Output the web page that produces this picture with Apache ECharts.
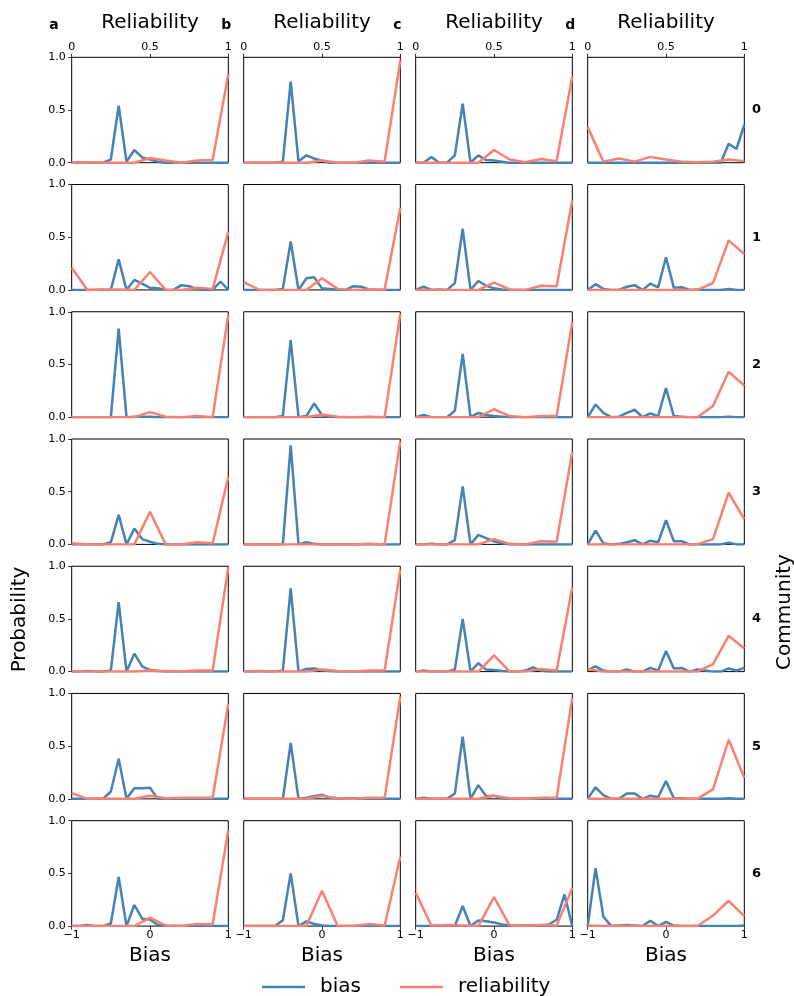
<!DOCTYPE html>
<html><head><meta charset="utf-8">
<script src="https://cdn.jsdelivr.net/npm/echarts@6/dist/echarts.min.js"></script>
<style>html,body{margin:0;padding:0;background:#fff}#c{width:794px;height:996px}</style>
</head><body><div id="c"></div><script>
// ---- data ----
const biasBins = [-1,-0.9,-0.8,-0.7,-0.6,-0.5,-0.4,-0.3,-0.2,-0.1,0,0.1,0.2,0.3,0.4,0.5,0.6,0.7,0.8,0.9,1];
const relBins = [0,0.1,0.2,0.3,0.4,0.5,0.6,0.7,0.8,0.9,1];
const panelLetters = ['a','b','c','d'];
const communities = ['0','1','2','3','4','5','6'];
const probTicks = ['0.0','0.5','1.0'];
const relTicks = ['0','0.5','1'];
const biasTicks = ['\u22121','0','1'];

const biasA = [
  [0,0.005,0,0,0,0.03,0.54,0.01,0.12,0.05,0.03,0.01,0,0,0,0,0,0,0,0,0],
  [0,0,0,0,0,0,0.29,0,0.095,0.06,0.02,0.015,0,0,0.045,0.035,0.01,0,0,0.08,0],
  [0,0,0,0,0,0,0.84,0,0.005,0.005,0.005,0,0,0,0,0,0,0,0,0,0],
  [0,0,0,0,0,0.02,0.28,0,0.15,0.05,0.025,0.005,0,0,0,0,0,0,0,0,0],
  [0,0,0.005,0,0,0.01,0.66,0,0.17,0.05,0.015,0.005,0,0,0,0,0,0,0,0,0],
  [0,0,0,0,0,0.07,0.38,0,0.1,0.1,0.105,0,0,0,0,0,0,0,0,0,0],
  [0,0,0.01,0,0,0.025,0.465,0,0.2,0.07,0.063,0.01,0,0,0,0,0,0,0,0,0]
];
const relA = [
  [0,0.005,0,0,0,0.045,0.02,0,0.02,0.025,0.84],
  [0.21,0,0.005,0.005,0,0.17,0,0,0.02,0.01,0.55],
  [0,0,0,0,0,0.048,0.005,0,0.01,0,0.97],
  [0.01,0,0,0,0,0.31,0,0,0.02,0.01,0.64],
  [0,0,0,0,0,0.01,0.005,0,0.01,0.01,0.99],
  [0.055,0,0,0,0,0.03,0.005,0.01,0.01,0.01,0.9],
  [0,0,0,0,0,0.08,0.005,0,0.02,0.015,0.91]
];
const biasB = [
  [0,0,0,0,0,0.01,0.77,0.01,0.07,0.04,0.02,0,0,0,0,0,0,0,0,0,0],
  [0,0,0,0,0,0.01,0.46,0,0.11,0.12,0.015,0.01,0.005,0,0.035,0.03,0.005,0,0,0,0],
  [0,0,0,0,0,0.01,0.73,0,0.01,0.13,0.02,0.005,0,0,0,0,0,0,0,0,0],
  [0,0,0,0,0,0,0.94,0,0.02,0.005,0,0,0,0,0,0,0,0,0,0,0],
  [0,0,0.005,0,0,0.01,0.79,0,0.025,0.03,0.01,0.005,0,0,0,0,0,0,0,0,0],
  [0,0,0,0,0,0,0.53,0,0.01,0.025,0.04,0.01,0.005,0.005,0.005,0,0,0,0,0,0],
  [0,0,0,0,0,0.055,0.5,0,0.045,0.02,0.005,0,0,0,0,0,0,0,0,0,0]
];
const relB = [
  [0,0,0,0,0,0.02,0,0,0.02,0.01,0.97],
  [0.075,0,0,0,0,0.11,0.01,0,0.005,0.005,0.78],
  [0,0,0,0,0,0.025,0.005,0,0.005,0,0.98],
  [0,0,0,0,0,0,0,0,0.005,0,0.98],
  [0,0,0,0,0,0.02,0.005,0,0.01,0.01,0.97],
  [0,0,0,0,0,0.03,0.005,0,0.01,0.01,0.97],
  [0,0,0,0,0,0.335,0,0,0.02,0.005,0.66]
];
const biasC = [
  [0,0,0.055,0,0,0.07,0.56,0,0.07,0.025,0.02,0.01,0,0,0,0,0,0,0,0,0],
  [0,0.03,0,0.005,0,0.065,0.58,0,0.085,0.04,0.015,0.005,0,0,0,0,0,0,0,0,0],
  [0,0.02,0,0,0,0.06,0.6,0,0.04,0.02,0.01,0.005,0,0,0,0,0,0,0,0,0],
  [0,0,0.005,0,0,0.04,0.55,0,0.09,0.06,0.03,0.01,0,0,0,0,0,0,0,0,0],
  [0,0.01,0,0,0,0.02,0.5,0,0.08,0.02,0.015,0.005,0,0,0.01,0.04,0.01,0,0,0,0],
  [0,0.01,0,0,0,0.05,0.59,0,0.13,0.025,0.03,0.005,0,0,0,0,0,0,0,0,0],
  [0,0,0,0,0,0,0.19,0,0.053,0.045,0.035,0.015,0.005,0.005,0.005,0.005,0.005,0.015,0.06,0.3,0]
];
const relC = [
  [0,0,0,0,0,0.12,0.03,0.005,0.035,0.015,0.82],
  [0,0,0,0,0,0.07,0.005,0,0.04,0.035,0.85],
  [0,0,0,0,0,0.075,0.01,0,0.01,0.01,0.9],
  [0,0,0,0,0,0.05,0.005,0,0.03,0.025,0.88],
  [0,0,0,0,0,0.155,0,0,0.025,0.01,0.8],
  [0,0,0,0,0,0.03,0.005,0,0.01,0.01,0.96],
  [0.315,0.005,0.01,0.005,0,0.275,0.005,0,0.01,0.005,0.36]
];
const biasD = [
  [0,0,0,0,0,0,0,0,0,0,0,0,0,0,0,0,0,0,0.18,0.13,0.36],
  [0,0.055,0.01,0,0,0.03,0.045,0,0.06,0.025,0.31,0.02,0.025,0,0.005,0,0,0,0.01,0,0],
  [0,0.12,0.04,0,0.005,0.04,0.07,0,0.035,0.01,0.275,0.01,0.005,0,0,0,0,0,0.005,0,0],
  [0,0.13,0.01,0,0.005,0.02,0.04,0,0.035,0.02,0.23,0.03,0.03,0,0,0,0,0,0.015,0,0],
  [0.015,0.05,0.01,0,0,0.02,0,0,0.035,0.01,0.195,0.03,0.035,0,0.02,0.01,0,0,0.03,0.01,0.035],
  [0,0.11,0.035,0,0,0.05,0.05,0,0.03,0.015,0.17,0.005,0.005,0,0,0,0,0,0.005,0,0],
  [0,0.55,0.09,0,0.005,0.01,0.005,0,0.05,0,0.04,0.005,0,0,0,0,0,0,0,0,0.005]
];
const relD = [
  [0.34,0.01,0.04,0.01,0.055,0.03,0.01,0.005,0.01,0.03,0.015],
  [0,0,0,0,0,0,0,0,0.065,0.47,0.34],
  [0,0,0,0,0,0,0,0,0.105,0.43,0.3],
  [0,0,0,0,0,0,0,0,0.05,0.49,0.24],
  [0.025,0,0,0,0,0,0,0,0.07,0.34,0.22],
  [0,0,0,0,0,0,0,0,0.09,0.56,0.2],
  [0.005,0,0,0,0,0,0,0,0.1,0.24,0.095]
];

// ---- layout ----
const FONT = 'DejaVu Sans';
const BLUE = '#4682b4', RED = '#fa8072';
const colLeft = [71.7, 243.7, 415.7, 587.7];
const PW = 156.6, PH = 105.4, ROW0 = 57.3, ROWSTEP = 127.23;
const biasCols = [biasA, biasB, biasC, biasD];
const relCols = [relA, relB, relC, relD];

const grids = [], xAxes = [], yAxes = [], series = [];
const tickStyle = {color:'#000', width:0.8};
const labelStyle = {color:'#000', fontFamily:FONT, fontSize:11};

for (let r = 0; r < 7; r++) {
  for (let c = 0; c < 4; c++) {
    const g = grids.length;
    grids.push({left: colLeft[c], top: ROW0 + r*ROWSTEP, width: PW, height: PH,
      show: true, borderColor: '#000', borderWidth: 1, backgroundColor: 'rgba(0,0,0,0)', containLabel: false});
    // bottom bias axis
    xAxes.push({type:'value', gridIndex:g, position:'bottom', min:-1, max:1, interval:1,
      axisLine:{show:false, onZero:false}, splitLine:{show:false},
      axisTick:{show: r===6, length:3.5, lineStyle:tickStyle},
      axisLabel:{show: r===6, margin:4, ...labelStyle,
        formatter: v => biasTicks[Math.round(v)+1]}});
    // top reliability axis
    xAxes.push({type:'value', gridIndex:g, position:'top', min:0, max:1, interval:0.5,
      axisLine:{show:false, onZero:false}, splitLine:{show:false},
      axisTick:{show: r===0, length:3.5, lineStyle:tickStyle},
      axisLabel:{show: r===0, margin:5, ...labelStyle,
        formatter: v => relTicks[Math.round(v*2)]}});
    yAxes.push({type:'value', gridIndex:g, position:'left', min:0, max:1, interval:0.5,
      axisLine:{show:false, onZero:false}, splitLine:{show:false},
      axisTick:{show: c===0, length:3.5, lineStyle:tickStyle},
      axisLabel:{show: c===0, margin:6, ...labelStyle,
        formatter: v => probTicks[Math.round(v*2)]}});
    series.push({type:'line', name:'bias', xAxisIndex:2*g, yAxisIndex:g,
      data: biasBins.map((x,k)=>[x, biasCols[c][r][k]]),
      symbol:'none', lineStyle:{color:BLUE, width:2.5}, itemStyle:{color:BLUE}, z:2, clip:true});
    series.push({type:'line', name:'reliability', xAxisIndex:2*g+1, yAxisIndex:g,
      data: relBins.map((x,j)=>[x, relCols[c][r][j]]),
      symbol:'none', lineStyle:{color:RED, width:2.5}, itemStyle:{color:RED}, z:3, clip:true});
  }
}

const graphic = [];
for (let c = 0; c < 4; c++) {
  const cx = colLeft[c] + PW/2;
  graphic.push({type:'text', x:cx, y:23, style:{text:'Reliability', font:'20px "'+FONT+'"', fill:'#000', textAlign:'center', textVerticalAlign:'middle'}});
  graphic.push({type:'text', x:cx, y:956, style:{text:'Bias', font:'20px "'+FONT+'"', fill:'#000', textAlign:'center', textVerticalAlign:'middle'}});
  graphic.push({type:'text', x:colLeft[c]-22.5, y:25, style:{text:panelLetters[c], font:'bold 14px "'+FONT+'"', fill:'#000', textAlign:'left', textVerticalAlign:'middle'}});
}
for (let r = 0; r < 7; r++) {
  graphic.push({type:'text', x:752, y:ROW0 + r*ROWSTEP + PH/2, style:{text:communities[r], font:'bold 13px "'+FONT+'"', fill:'#000', textAlign:'left', textVerticalAlign:'middle'}});
}
graphic.push({type:'text', x:19.5, y:619.5, rotation:Math.PI/2, style:{text:'Probability', font:'20px "'+FONT+'"', fill:'#000', textAlign:'center', textVerticalAlign:'middle'}});
graphic.push({type:'text', x:785, y:612, rotation:Math.PI/2, style:{text:'Community', font:'20px "'+FONT+'"', fill:'#000', textAlign:'center', textVerticalAlign:'middle'}});

const chart = echarts.init(document.getElementById('c'), null, {renderer:'canvas'});
chart.setOption({
  animation:false,
  backgroundColor:'#fff',
  grid: grids, xAxis: xAxes, yAxis: yAxes, series: series,
  legend: {data:['bias','reliability'], left:262, top:977, padding:0, icon:'rect',
    itemWidth:43, itemHeight:2.5, itemGap:39,
    textStyle:{fontFamily:FONT, fontSize:20, color:'#000', padding:[0,0,0,10]}},
  graphic: graphic
});
</script></body></html>
